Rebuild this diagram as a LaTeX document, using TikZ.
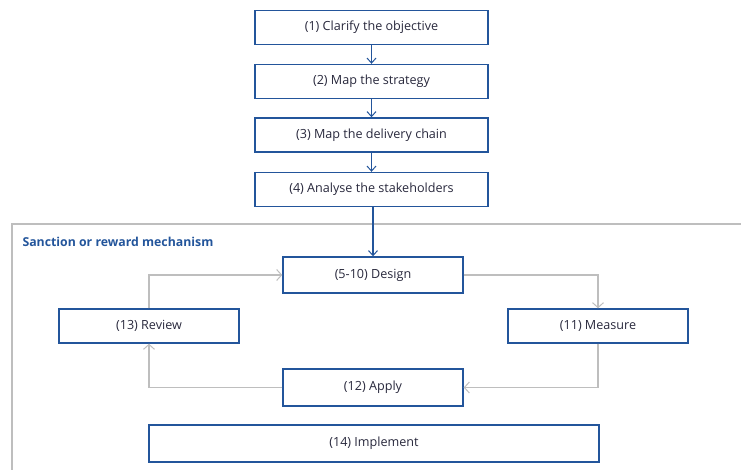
\documentclass[tikz,border=0pt]{standalone}
\usepackage{fontspec}
\setmainfont{Open Sans}
\usetikzlibrary{arrows.meta}
\definecolor{boxblue}{RGB}{35,85,155}
\definecolor{linegray}{RGB}{190,190,190}
\definecolor{txt}{RGB}{40,40,60}
\begin{document}
\begin{tikzpicture}[x=1pt,y=-1pt,
  stepbox/.style={draw=boxblue,line width=1.4pt,minimum height=34pt,inner sep=0pt,font=\fontsize{12.6}{14}\selectfont,text=txt},
  bluearr/.style={draw=boxblue,line width=1.4pt,-{Straight Barb[length=5pt,width=9pt,line width=1pt]}},
  grayarr/.style={draw=linegray,line width=1.2pt,-{Straight Barb[length=5pt,width=11pt,line width=1pt]}}]
\useasboundingbox (0,0) rectangle (741,470);
% container
\draw[linegray,line width=1.2pt] (745,224) -- (12,224) -- (12,475);
\node[anchor=west,text=boxblue,font=\bfseries\fontsize{12.3}{14}\selectfont] (lbl) at (19,242) {Sanction or reward mechanism};
% top chain
\node[stepbox,minimum width=233pt] (n1) at (371.5,27.5) {(1) Clarify the objective};
\node[stepbox,minimum width=233pt] (n2) at (371.5,81.5) {(2) Map the strategy};
\node[stepbox,minimum width=233pt] (n3) at (371.5,135) {(3) Map the delivery chain};
\node[stepbox,minimum width=233pt] (n4) at (371.5,189.5) {(4) Analyse the stakeholders};
% loop
\node[stepbox,minimum width=180pt,minimum height=36pt] (n5) at (373,275) {(5-10) Design};
\node[stepbox,minimum width=180pt] (n13) at (149,326) {(13) Review};
\node[stepbox,minimum width=180pt] (n11) at (598,326) {(11) Measure};
\node[stepbox,minimum width=180pt,minimum height=37pt] (n12) at (373,387.5) {(12) Apply};
\node[stepbox,minimum width=450pt,minimum height=37pt] (n14) at (374,443.5) {(14) Implement};
\draw[bluearr] (n1) -- (n2);
\draw[bluearr] (n2) -- (n3);
\draw[bluearr] (n3) -- (n4);
\draw[bluearr] (n4.south -| n5.north) -- (n5.north);
\draw[grayarr] (n13.north) |- (n5.west);
\draw[grayarr] (n5.east) -| (n11.north);
\draw[grayarr] (n11.south) |- (n12.east);
\draw[grayarr] (n12.west) -| (n13.south);
\end{tikzpicture}
\end{document}
